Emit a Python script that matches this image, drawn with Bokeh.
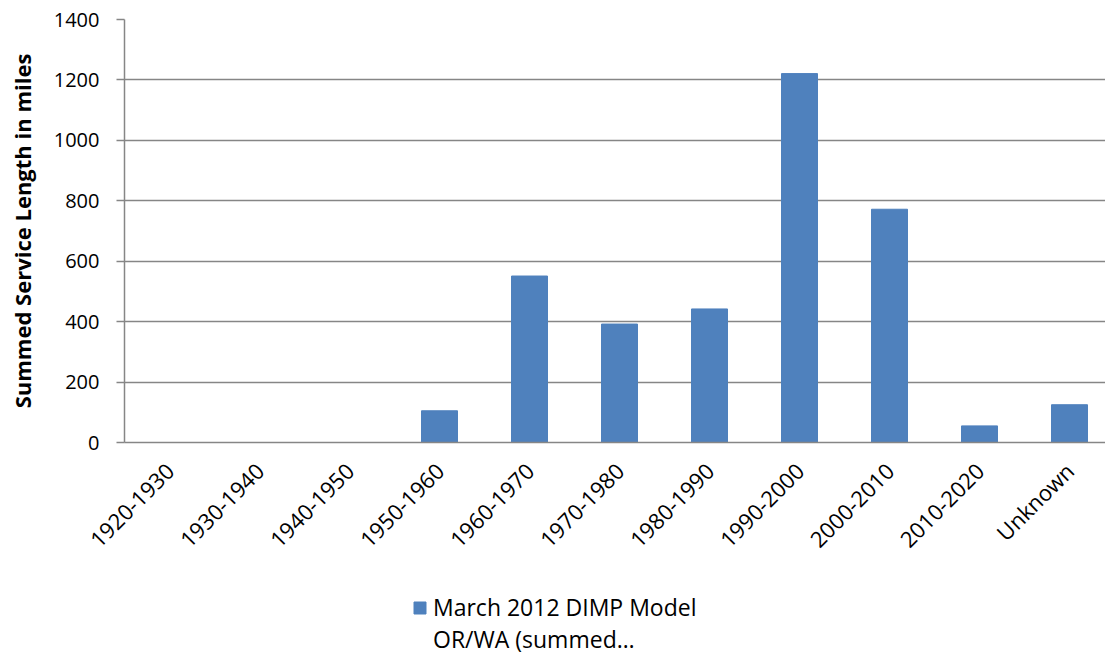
import numpy as np
from math import pi
from bokeh.plotting import figure
from bokeh.layouts import column
from bokeh.models import ColumnDataSource, Range1d, FixedTicker, Legend, LegendItem
from bokeh.embed import file_html
from bokeh.resources import INLINE

categories = ["1920-1930", "1930-1940", "1940-1950", "1950-1960", "1960-1970",
              "1970-1980", "1980-1990", "1990-2000", "2000-2010", "2010-2020", "Unknown"]
values = [0, 0, 0, 105, 551, 392, 442, 1221, 772, 55, 125]
y_ticks = [0, 200, 400, 600, 800, 1000, 1200, 1400]
series_name_lines = ["March 2012 DIMP Model", "OR/WA (summed…"]

FONT = "Open Sans"
GRID = "#868686"
BAR = "#4F81BD"

xs = np.arange(len(categories)) + 0.5
src = ColumnDataSource(dict(x=xs, top=values, cat=categories))

p = figure(width=1105, height=588, output_backend="svg", toolbar_location=None,
           x_range=Range1d(0, 10.9), y_range=Range1d(0, 1400),
           min_border_left=124, min_border_right=0, min_border_top=19, min_border_bottom=146)

r = p.vbar(x="x", top="top", width=0.4, color=BAR, source=src)

p.xgrid.visible = False
p.ygrid.grid_line_color = GRID
p.ygrid.grid_line_width = 1.5
p.ygrid.ticker = FixedTicker(ticks=y_ticks)
p.outline_line_color = None

p.yaxis.ticker = FixedTicker(ticks=y_ticks)
p.yaxis.axis_line_color = GRID
p.yaxis.axis_line_width = 1.5
p.yaxis.major_tick_line_color = GRID
p.yaxis.major_tick_line_width = 1.5
p.yaxis.major_tick_out = 8
p.yaxis.major_tick_in = 0
p.yaxis.minor_tick_line_color = None
p.yaxis.major_label_text_font = FONT
p.yaxis.major_label_text_font_size = "20px"
p.yaxis.major_label_text_color = "#000000"
p.yaxis.major_label_standoff = 17
p.yaxis.axis_label = "Summed Service Length in miles"
p.yaxis.axis_label_text_font = FONT
p.yaxis.axis_label_text_font_size = "22px"
p.yaxis.axis_label_text_font_style = "bold"
p.yaxis.axis_label_text_color = "#000000"
p.yaxis.axis_label_standoff = 14

p.xaxis.ticker = FixedTicker(ticks=list(xs))
p.xaxis.major_label_overrides = {float(x): c for x, c in zip(xs, categories)}
p.xaxis.major_label_orientation = pi / 4
p.xaxis.axis_line_color = GRID
p.xaxis.axis_line_width = 1.5
p.xaxis.major_tick_line_color = None
p.xaxis.minor_tick_line_color = None
p.xaxis.major_label_text_font = FONT
p.xaxis.major_label_text_font_size = "22px"
p.xaxis.major_label_text_color = "#000000"
p.xaxis.major_label_standoff = 18

# legend strip below the chart (frames of a column are aligned, so x is from x=124)
lg = figure(width=1105, height=72, output_backend="svg", toolbar_location=None,
            x_range=Range1d(0, 1), y_range=Range1d(0, 1),
            min_border_left=0, min_border_right=0, min_border_top=0, min_border_bottom=0)
lg.axis.visible = False
lg.grid.visible = False
lg.outline_line_color = None
r2 = lg.vbar(x=[-5], top=[-5], width=0.4, color=BAR)
r3 = lg.vbar(x=[-5], top=[-5], width=0.4, fill_alpha=0, line_alpha=0)

legend = Legend(items=[LegendItem(label=series_name_lines[0], renderers=[r2]),
                       LegendItem(label=series_name_lines[1], renderers=[r3])],
                location=(288, 5), orientation="vertical",
                label_text_font=FONT, label_text_font_size="23px",
                label_text_color="#000000", border_line_color=None,
                background_fill_alpha=0, glyph_width=15, glyph_height=15,
                label_height=29, spacing=0,
                label_standoff=6, padding=0, margin=0)
lg.add_layout(legend, "center")

layout = column(p, lg, spacing=0)
open("out.html", "w").write(file_html(layout, INLINE))
